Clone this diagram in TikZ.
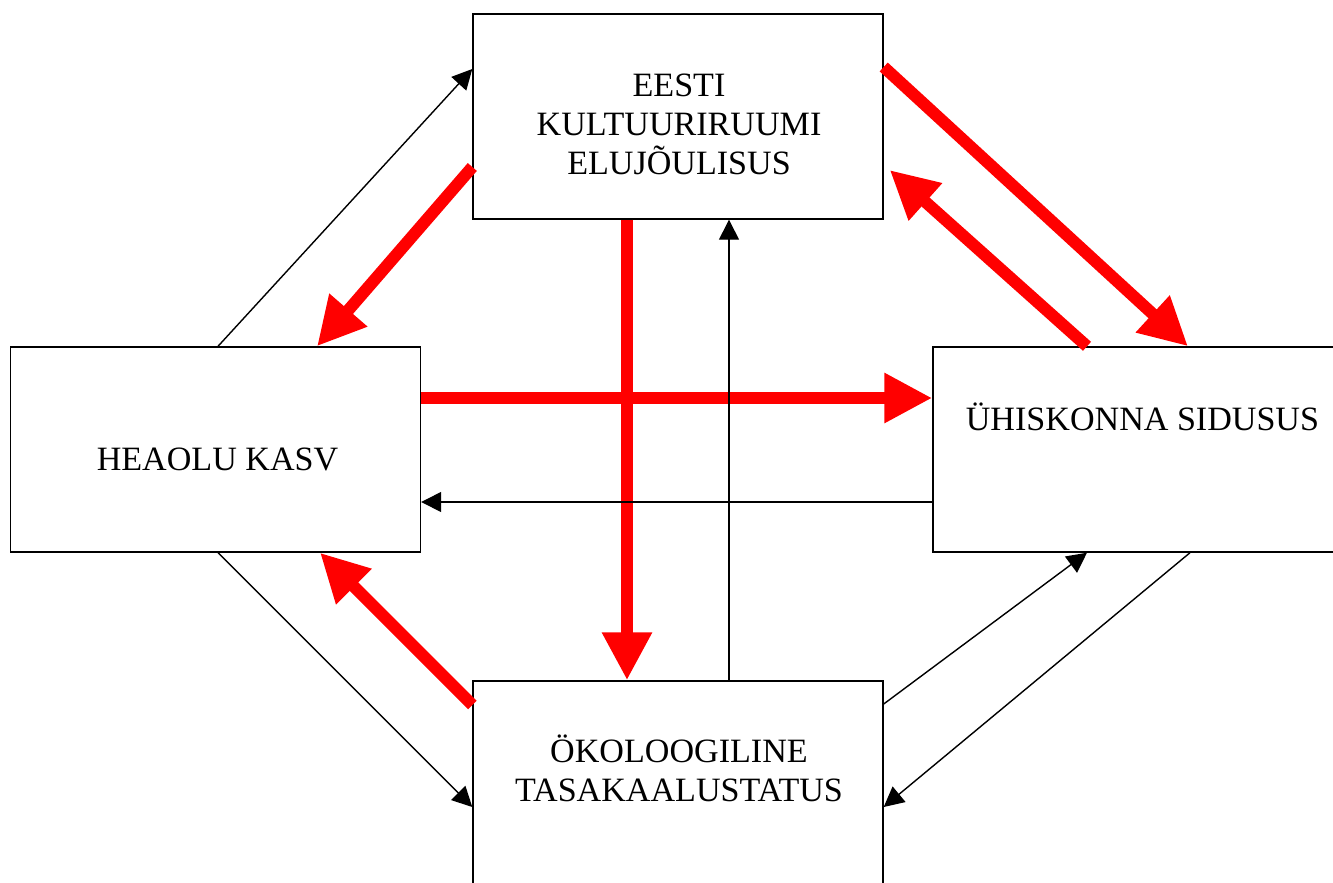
\documentclass[tikz,border=0pt]{standalone}
\usepackage{fontspec}
\setmainfont{Liberation Serif}
\usetikzlibrary{arrows.meta}

\tikzset{
  box/.style={draw, rectangle, thin, minimum width=4.1cm, minimum height=2.05cm, inner sep=0pt},
  boxtext/.style={align=center, inner sep=0pt, font=\fontsize{9.7}{11.1}\selectfont},
  redarrow/.style={draw=red, line width=0.12cm, -{Triangle[width=0.47cm,length=0.48cm]}},
  thinarrow/.style={draw=black, thin, -{Triangle[width=0.2cm,length=0.2cm]}}
}

\begin{document}
\begin{tikzpicture}
        \useasboundingbox (0,0) rectangle (13.33,8.82);

        % boxes
        \node[box] (kultuur) at (6.78,7.655) {};
        \node[box] (heaolu) at (2.155,4.325) {};
        \node[box] (sidusus) at (11.38,4.325) {};
        \node[box] (okoloogia) at (6.78,0.985) {};

        \node[boxtext] (kultuurtxt) at (6.79,7.575) {EESTI\\KULTUURIRUUMI\\ELUJÕULISUS};
        \node[boxtext, anchor=base] (heaolutxt) at (2.175,4.12) {HEAOLU KASV};
        \node[boxtext, anchor=base] (sidusustxt) at (11.425,4.52) {ÜHISKONNA SIDUSUS};
        \node[boxtext] (okoloogiatxt) at (6.79,1.14) {ÖKOLOOGILINE\\TASAKAALUSTATUS};

        % red arrows
        \draw[redarrow] ([yshift=-0.505cm]kultuur.west) -- ([xshift=1.015cm]heaolu.north);
        \draw[redarrow] ([xshift=-0.51cm]kultuur.south) -- ([xshift=-0.51cm]okoloogia.north);
        \draw[redarrow] ([yshift=0.515cm]heaolu.east) -- ([yshift=0.515cm]sidusus.west);
        \draw[redarrow] ([yshift=0.495cm]kultuur.east) -- ([xshift=0.5cm]sidusus.north);
        \draw[redarrow] ([xshift=-0.51cm]sidusus.north) -- ([xshift=0.06cm,yshift=-0.535cm]kultuur.east);
        \draw[redarrow] ([yshift=0.785cm]okoloogia.west) -- ([xshift=1.045cm]heaolu.south);

        % thin arrows
        \draw[thinarrow] ([xshift=0.025cm]heaolu.north) -- ([yshift=0.475cm]kultuur.west);
        \draw[thinarrow] ([xshift=0.025cm]heaolu.south) -- ([yshift=-0.235cm]okoloogia.west);
        \draw[thinarrow] ([yshift=-0.525cm]sidusus.west) -- ([yshift=-0.525cm]heaolu.east);
        \draw[thinarrow] ([xshift=0.51cm]okoloogia.north) -- ([xshift=0.51cm]kultuur.south);
        \draw[thinarrow] ([yshift=0.795cm]okoloogia.east) -- ([xshift=-0.51cm]sidusus.south);
        \draw[thinarrow] ([xshift=0.52cm]sidusus.south) -- ([yshift=-0.235cm]okoloogia.east);
    \end{tikzpicture}
\end{document}
